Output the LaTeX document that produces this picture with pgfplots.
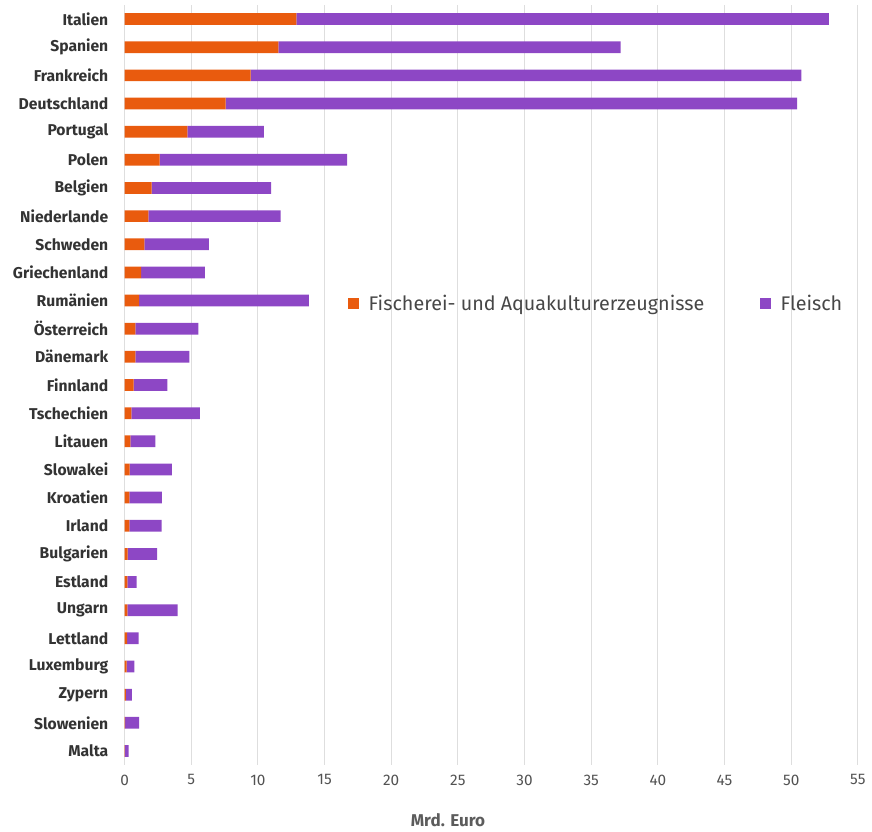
\documentclass[border=0pt]{standalone}
\usepackage{pgfplots}
\pgfplotsset{compat=1.18}
\usepackage{pgfplotstable}
\usepackage{fontspec}
\setmainfont{Fira Sans}
\definecolor{orng}{RGB}{233,91,14}
\definecolor{purp}{RGB}{141,71,197}
\definecolor{gridc}{RGB}{222,222,222}
\definecolor{txt}{RGB}{51,51,51}
\pgfplotstableread{
y f m
0 12.88 39.95
1 11.53 25.67
2 9.46 41.30
3 7.58 42.86
4 4.71 5.75
5 2.64 14.06
6 2.04 8.96
7 1.79 9.92
8 1.49 4.84
9 1.24 4.79
10 1.09 12.74
11 0.81 4.72
12 0.81 4.05
13 0.69 2.52
14 0.51 5.15
15 0.44 1.87
16 0.39 3.17
17 0.36 2.45
18 0.36 2.43
19 0.24 2.20
20 0.21 0.70
21 0.21 3.78
22 0.19 0.87
23 0.16 0.58
24 0.11 0.45
25 0.05 1.04
26 0.02 0.29
}\datatable
\begin{document}
\begin{tikzpicture}
\useasboundingbox (-93.4pt,-50.25pt) rectangle (560.6pt,573.75pt);
\begin{axis}[
  at={(0,0)}, anchor=south west,
  scale only axis,
  width=550pt, height=570pt,
  xbar stacked,
  bar width=8.8pt,
  y dir=reverse,
  xmin=0, xmax=55,
  ymin=-0.5, ymax=26.5,
  xtick={0,5,...,55},
  ytick={0,...,26},
  yticklabels={Italien,Spanien,Frankreich,Deutschland,Portugal,Polen,Belgien,Niederlande,Schweden,Griechenland,Rumänien,Österreich,Dänemark,Finnland,Tschechien,Litauen,Slowakei,Kroatien,Irland,Bulgarien,Estland,Ungarn,Lettland,Luxemburg,Zypern,Slowenien,Malta},
  axis line style={draw=none},
  major tick length=0pt,
  xmajorgrids,
  major grid style={gridc, line width=0.8pt},
  /pgf/number format/assume math mode=true,
  xticklabel style={font=\fontsize{11.5}{13}\selectfont, text=txt!85, inner sep=0pt, anchor=north, yshift=-7pt},
  yticklabel style={font=\bfseries\fontsize{11.75}{13}\selectfont, text=txt, inner sep=0pt, anchor=east, xshift=-12pt},
  xlabel={\bfseries Mrd. Euro},
  xlabel style={font=\fontsize{12.8}{14}\selectfont, text=txt!80, at={(axis description cs:0.441,0)}, anchor=center, yshift=-41pt},
  legend style={at={(axis description cs:0.305,0.607)}, anchor=west, draw=none, fill=none,
    font=\fontsize{14.8}{16}\selectfont, text=txt!90, inner sep=0pt,
    /tikz/every odd column/.append style={column sep=5pt},
    /tikz/every even column/.append style={column sep=40pt}},
  legend columns=2,
  legend cell align=left,
  legend image code/.code={\fill[#1] (0pt,-4.1pt) rectangle (8.2pt,4.1pt);},
]
\addplot[fill=orng, draw=none] table[x=f, y=y] {\datatable};
\addplot[fill=purp, draw=none] table[x=m, y=y] {\datatable};
\legend{Fischerei- und Aquakulturerzeugnisse, Fleisch}
\end{axis}
\end{tikzpicture}
\end{document}
